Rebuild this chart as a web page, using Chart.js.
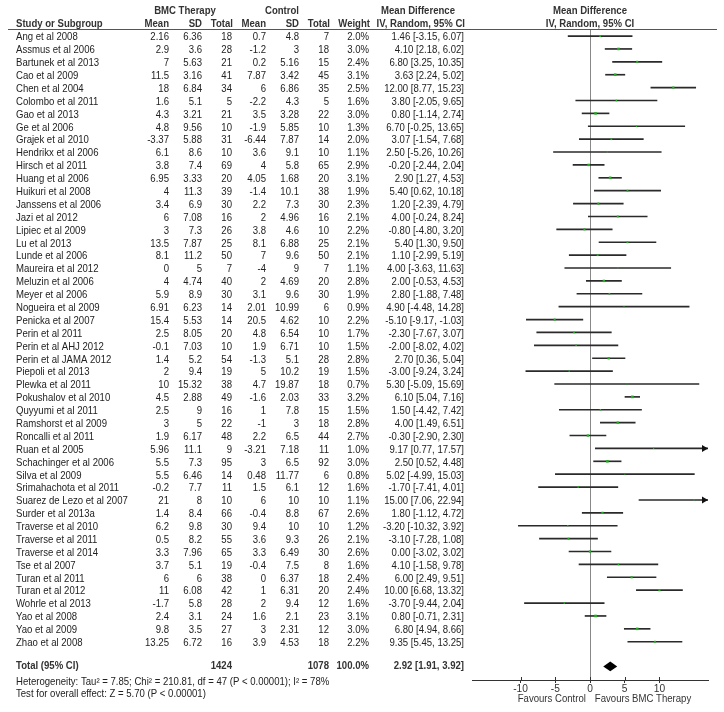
<!DOCTYPE html>
<html>
<head>
<meta charset="utf-8">
<script src="https://cdn.jsdelivr.net/npm/chart.js@4"></script>
<style>
html, body { margin: 0; padding: 0; background: #fff; }
</style>
</head>
<body>
<canvas id="forest" width="724" height="712"></canvas>
<script>
// study data
var studies = ['Ang et al 2008', 'Assmus et al 2006', 'Bartunek et al 2013', 'Cao et al 2009', 'Chen et al 2004',
  'Colombo et al 2011', 'Gao et al 2013', 'Ge et al 2006', 'Grajek et al 2010', 'Hendrikx et al 2006',
  'Hirsch et al 2011', 'Huang et al 2006', 'Huikuri et al 2008', 'Janssens et al 2006', 'Jazi et al 2012',
  'Lipiec et al 2009', 'Lu et al 2013', 'Lunde et al 2006', 'Maureira et al 2012', 'Meluzin et al 2006',
  'Meyer et al 2006', 'Nogueira et al 2009', 'Penicka et al 2007', 'Perin et al 2011', 'Perin et al AHJ 2012',
  'Perin et al JAMA 2012', 'Piepoli et al 2013', 'Plewka et al 2011', 'Pokushalov et al 2010', 'Quyyumi et al 2011',
  'Ramshorst et al 2009', 'Roncalli et al 2011', 'Ruan et al 2005', 'Schachinger et al 2006', 'Silva et al 2009',
  'Srimahachota et al 2011', 'Suarez de Lezo et al 2007', 'Surder et al 2013a', 'Traverse et al 2010', 'Traverse et al 2011',
  'Traverse et al 2014', 'Tse et al 2007', 'Turan et al 2011', 'Turan et al 2012', 'Wohrle et al 2013',
  'Yao et al 2008', 'Yao et al 2009', 'Zhao et al 2008'];
var bmcMean = [2.16, 2.9, 7, 11.5, 18, 1.6, 4.3, 4.8, -3.37, 6.1, 3.8, 6.95, 4, 3.4, 6, 3, 13.5, 8.1, 0, 4,
  5.9, 6.91, 15.4, 2.5, -0.1, 1.4, 2, 10, 4.5, 2.5, 3, 1.9, 5.96, 5.5, 5.5, -0.2, 21, 1.4, 6.2, 0.5,
  3.3, 3.7, 6, 11, -1.7, 2.4, 9.8, 13.25];
var bmcSD = [6.36, 3.6, 5.63, 3.16, 6.84, 5.1, 3.21, 9.56, 5.88, 8.6, 7.4, 3.33, 11.3, 6.9, 7.08, 7.3, 7.87, 11.2, 5, 4.74,
  8.9, 6.23, 5.53, 8.05, 7.03, 5.2, 9.4, 15.32, 2.88, 9, 5, 6.17, 11.1, 7.3, 6.46, 7.7, 8, 8.4, 9.8, 8.2,
  7.96, 5.1, 6, 6.08, 5.8, 3.1, 3.5, 6.72];
var bmcN = [18, 28, 21, 41, 34, 5, 21, 10, 31, 10, 69, 20, 39, 30, 16, 26, 25, 50, 7, 40,
  30, 14, 14, 20, 10, 54, 19, 38, 49, 16, 22, 48, 9, 95, 14, 11, 10, 66, 30, 55,
  65, 19, 38, 42, 28, 24, 27, 16];
var ctlMean = [0.7, -1.2, 0.2, 7.87, 6, -2.2, 3.5, -1.9, -6.44, 3.6, 4, 4.05, -1.4, 2.2, 2, 3.8, 8.1, 7, -4, 2,
  3.1, 2.01, 20.5, 4.8, 1.9, -1.3, 5, 4.7, -1.6, 1, -1, 2.2, -3.21, 3, 0.48, 1.5, 6, -0.4, 9.4, 3.6,
  3.3, -0.4, 0, 1, 2, 1.6, 3, 3.9];
var ctlSD = [4.8, 3, 5.16, 3.42, 6.86, 4.3, 3.28, 5.85, 7.87, 9.1, 5.8, 1.68, 10.1, 7.3, 4.96, 4.6, 6.88, 9.6, 9, 4.69,
  9.6, 10.99, 4.62, 6.54, 6.71, 5.1, 10.2, 19.87, 2.03, 7.8, 3, 6.5, 7.18, 6.5, 11.77, 6.1, 10, 8.8, 10, 9.3,
  6.49, 7.5, 6.37, 6.31, 9.4, 2.1, 2.31, 4.53];
var ctlN = [7, 18, 15, 45, 35, 5, 22, 10, 14, 10, 65, 20, 38, 30, 16, 10, 25, 50, 7, 20,
  30, 6, 10, 10, 10, 28, 19, 18, 33, 15, 18, 44, 11, 92, 6, 12, 10, 67, 10, 26,
  30, 8, 18, 20, 12, 23, 12, 18];
var weight = [2.0, 3.0, 2.4, 3.1, 2.5, 1.6, 3.0, 1.3, 2.0, 1.1, 2.9, 3.1, 1.9, 2.3, 2.1, 2.2, 2.1, 2.1, 1.1, 2.8,
  1.9, 0.9, 2.2, 1.7, 1.5, 2.8, 1.5, 0.7, 3.2, 1.5, 2.8, 2.7, 1.0, 3.0, 0.8, 1.6, 1.1, 2.6, 1.2, 2.1,
  2.6, 1.6, 2.4, 2.4, 1.6, 3.1, 3.0, 2.2];
var meanDiff = [1.46, 4.10, 6.80, 3.63, 12.00, 3.80, 0.80, 6.70, 3.07, 2.50, -0.20, 2.90, 5.40, 1.20, 4.00, -0.80, 5.40, 1.10, 4.00, 2.00,
  2.80, 4.90, -5.10, -2.30, -2.00, 2.70, -3.00, 5.30, 6.10, 1.50, 4.00, -0.30, 9.17, 2.50, 5.02, -1.70, 15.00, 1.80, -3.20, -3.10,
  0.00, 4.10, 6.00, 10.00, -3.70, 0.80, 6.80, 9.35];
var ciLow = [-3.15, 2.18, 3.25, 2.24, 8.77, -2.05, -1.14, -0.25, -1.54, -5.26, -2.44, 1.27, 0.62, -2.39, -0.24, -4.80, 1.30, -2.99, -3.63, -0.53,
  -1.88, -4.48, -9.17, -7.67, -8.02, 0.36, -9.24, -5.09, 5.04, -4.42, 1.49, -2.90, 0.77, 0.52, -4.99, -7.41, 7.06, -1.12, -10.32, -7.28,
  -3.02, -1.58, 2.49, 6.68, -9.44, -0.71, 4.94, 5.45];
var ciHigh = [6.07, 6.02, 10.35, 5.02, 15.23, 9.65, 2.74, 13.65, 7.68, 10.26, 2.04, 4.53, 10.18, 4.79, 8.24, 3.20, 9.50, 5.19, 11.63, 4.53,
  7.48, 14.28, -1.03, 3.07, 4.02, 5.04, 3.24, 15.69, 7.16, 7.42, 6.51, 2.30, 17.57, 4.48, 15.03, 4.01, 22.94, 4.72, 3.92, 1.08,
  3.02, 9.78, 9.51, 13.32, 2.04, 2.31, 8.66, 13.25];

var totalBmcN = 1424;
var totalCtlN = 1078;
var totalMD = 2.92, totalLow = 1.91, totalHigh = 3.92;
var xTicks = [-10, -5, 0, 5, 10];
var xMin = -17, xMax = 17;
var totalRow = 48.8;

var FONT = '"Liberation Sans", Arial, sans-serif';
var SQUEEZE = 0.94;

// text drawn slightly narrower to match the reference lettering
function txt(ctx, s, x, y, align) {
  ctx.save();
  ctx.translate(x, y);
  ctx.scale(SQUEEZE, 1);
  ctx.textAlign = align;
  ctx.fillText(s, 0, 0);
  ctx.restore();
}

var tablePlugin = {
  id: 'tableText',
  afterDraw: function(chart) {
    var ctx = chart.ctx;
    var xs = chart.scales.x, ys = chart.scales.y;
    ctx.save();
    ctx.textBaseline = 'middle';

    // column headers
    ctx.fillStyle = '#333';
    ctx.font = 'bold 10.2px ' + FONT;
    txt(ctx, 'BMC Therapy', 185, 11, 'center');
    txt(ctx, 'Control', 282, 11, 'center');
    txt(ctx, 'Mean Difference', 418, 11, 'center');
    txt(ctx, 'Mean Difference', 590, 11, 'center');
    txt(ctx, 'IV, Random, 95% CI', 590, 24, 'center');
    txt(ctx, 'Study or Subgroup', 16, 24, 'left');
    txt(ctx, 'Mean', 169, 24, 'right');
    txt(ctx, 'SD', 202, 24, 'right');
    txt(ctx, 'Total', 233, 24, 'right');
    txt(ctx, 'Mean', 266, 24, 'right');
    txt(ctx, 'SD', 299, 24, 'right');
    txt(ctx, 'Total', 330, 24, 'right');
    txt(ctx, 'Weight', 370, 24, 'right');
    txt(ctx, 'IV, Random, 95% CI', 465, 24, 'right');

    ctx.strokeStyle = '#555';
    ctx.lineWidth = 1;
    ctx.beginPath();
    ctx.moveTo(8, 29.5);
    ctx.lineTo(717, 29.5);
    ctx.stroke();

    // upper half of the axis tick marks
    var axisY = xs.top;
    ctx.strokeStyle = '#333';
    ctx.beginPath();
    xTicks.forEach(function(v) {
      var tx = Math.round(xs.getPixelForValue(v)) + 0.5;
      ctx.moveTo(tx, axisY - 3);
      ctx.lineTo(tx, axisY);
    });
    ctx.stroke();

    // study rows
    ctx.font = '10.2px ' + FONT;
    for (var i = 0; i < studies.length; i++) {
      var py = ys.getPixelForValue(i) + 1.5;
      ctx.fillStyle = '#222';
      txt(ctx, studies[i], 16, py, 'left');
      txt(ctx, String(bmcMean[i]), 169, py, 'right');
      txt(ctx, String(bmcSD[i]), 202, py, 'right');
      txt(ctx, String(bmcN[i]), 232, py, 'right');
      txt(ctx, String(ctlMean[i]), 266, py, 'right');
      txt(ctx, String(ctlSD[i]), 299, py, 'right');
      txt(ctx, String(ctlN[i]), 329, py, 'right');
      txt(ctx, weight[i].toFixed(1) + '%', 369, py, 'right');
      txt(ctx, meanDiff[i].toFixed(2) + ' [' + ciLow[i].toFixed(2) + ', ' + ciHigh[i].toFixed(2) + ']', 464, py, 'right');

      // arrow for intervals running off the scale
      if (ciHigh[i] > xMax) {
        var ax = xs.getPixelForValue(xMax), ay = ys.getPixelForValue(i);
        ctx.fillStyle = '#111';
        ctx.beginPath();
        ctx.moveTo(ax, ay);
        ctx.lineTo(ax - 6, ay - 3.5);
        ctx.lineTo(ax - 6, ay + 3.5);
        ctx.closePath();
        ctx.fill();
      }
      if (ciLow[i] < xMin) {
        var bx = xs.getPixelForValue(xMin), by = ys.getPixelForValue(i);
        ctx.fillStyle = '#111';
        ctx.beginPath();
        ctx.moveTo(bx, by);
        ctx.lineTo(bx + 6, by - 3.5);
        ctx.lineTo(bx + 6, by + 3.5);
        ctx.closePath();
        ctx.fill();
      }
    }

    // total row
    var ty = ys.getPixelForValue(totalRow) + 1.5;
    ctx.font = 'bold 10.2px ' + FONT;
    ctx.fillStyle = '#333';
    txt(ctx, 'Total (95% CI)', 16, ty, 'left');
    txt(ctx, String(totalBmcN), 232, ty, 'right');
    txt(ctx, String(totalCtlN), 329, ty, 'right');
    txt(ctx, '100.0%', 369, ty, 'right');
    txt(ctx, totalMD.toFixed(2) + ' [' + totalLow.toFixed(2) + ', ' + totalHigh.toFixed(2) + ']', 464, ty, 'right');

    ctx.font = '10.2px ' + FONT;
    ctx.fillStyle = '#222';
    txt(ctx, 'Heterogeneity: Tau\u00b2 = 7.85; Chi\u00b2 = 210.81, df = 47 (P < 0.00001); I\u00b2 = 78%', 16, ty + 16, 'left');
    txt(ctx, 'Test for overall effect: Z = 5.70 (P < 0.00001)', 16, ty + 27.6, 'left');

    // pooled diamond
    var dl = xs.getPixelForValue(totalLow), dm = xs.getPixelForValue(totalMD), dh = xs.getPixelForValue(totalHigh);
    ctx.fillStyle = '#000';
    ctx.beginPath();
    ctx.moveTo(dl, ty);
    ctx.lineTo(dm, ty - 4.8);
    ctx.lineTo(dh, ty);
    ctx.lineTo(dm, ty + 4.8);
    ctx.closePath();
    ctx.fill();

    // favours labels
    ctx.fillStyle = '#333';
    txt(ctx, 'Favours Control', xs.getPixelForValue(-0.6), 699, 'right');
    txt(ctx, 'Favours BMC Therapy', xs.getPixelForValue(0.7), 699, 'left');
    ctx.restore();
  }
};

var ciData = studies.map(function(s, i) { return { x: [ciLow[i], ciHigh[i]], y: i }; });
var pointData = studies.map(function(s, i) { return { x: meanDiff[i], y: i }; });

new Chart(document.getElementById('forest'), {
  type: 'bar',
  data: {
    datasets: [{
      type: 'bar',
      label: 'CI',
      indexAxis: 'y',
      data: ciData,
      backgroundColor: '#2a2a2a',
      barThickness: 1,
      clip: 0,
      order: 2
    }, {
      type: 'scatter',
      label: 'Mean difference',
      data: pointData,
      pointStyle: 'rect',
      pointRadius: weight.map(function(w) { return 0.3 + w * 0.5; }),
      pointBackgroundColor: '#22b022',
      pointBorderWidth: 0,
      order: 1
    }]
  },
  options: {
    responsive: false,
    animation: false,
    layout: { padding: { top: 30, bottom: 16, left: 472, right: 16 } },
    plugins: { legend: { display: false }, tooltip: { enabled: false } },
    scales: {
      x: {
        type: 'linear',
        min: xMin,
        max: xMax,
        offset: false,
        afterBuildTicks: function(scale) {
          scale.ticks = xTicks.map(function(v) { return { value: v }; });
        },
        afterFit: function(scale) { scale.height = 16; },
        grid: {
          offset: false,
          color: function(c) { return c.tick && c.tick.value === 0 ? '#888' : 'rgba(0,0,0,0)'; },
          tickColor: '#333',
          tickLength: 3,
          lineWidth: 1
        },
        border: { display: true, color: '#333' },
        ticks: {
          color: '#333',
          padding: 0,
          font: { family: FONT, size: 10.2 }
        }
      },
      y: {
        type: 'linear',
        reverse: true,
        offset: false,
        min: -0.47,
        max: 49.97,
        display: false
      }
    }
  },
  plugins: [tablePlugin]
});
</script>
</body>
</html>
